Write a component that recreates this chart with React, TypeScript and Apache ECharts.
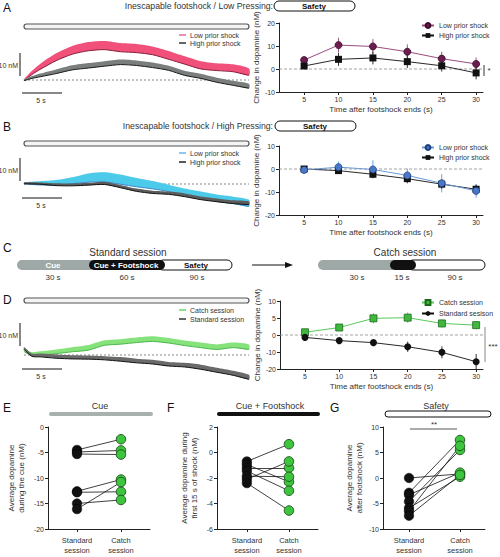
import React, { useEffect, useRef } from "react";
import * as echarts from "echarts";

const FONT = "'Liberation Sans', Arial, Helvetica, sans-serif";
const INK = "#333333";

// ---------- Photometry traces (nM vs time in s) ----------
const TRACE_T = [0, 1, 2, 4, 6, 8, 10, 12, 14, 16, 18, 20, 22, 24, 26, 28];
const A_LOW_TRACE = [0, 3.2, 5.8, 10, 13, 14.6, 15.1, 14.2, 13.8, 12.8, 10.8, 8.6, 6.5, 5.7, 5.2, 3.5];
const A_LOW_SEM = [0.3, 0.8, 1.2, 1.6, 1.8, 1.9, 1.9, 1.9, 1.9, 1.8, 1.8, 1.7, 1.7, 1.6, 1.6, 1.5];
const A_HIGH_TRACE = [0, 1.2, 2.1, 3.7, 5.4, 6.3, 7.1, 7.8, 7.4, 6.5, 5.2, 3, 1.7, 0, -1.3, -2.6];
const A_HIGH_SEM = [0.3, 0.5, 0.7, 0.9, 1, 1.1, 1.1, 1.1, 1.1, 1.1, 1, 1, 1, 1, 1, 1];
const B_LOW_TRACE = [0.4, 0.4, 0.4, 0.6, 1.5, 2.7, 3.0, 2.0, 0.7, -0.4, -1.8, -3.5, -4.8, -6.1, -7, -8.3];
const B_LOW_SEM = [0.3, 0.6, 0.8, 1.1, 1.4, 1.9, 2.1, 2.1, 1.9, 1.7, 1.5, 1.5, 1.5, 1.5, 1.5, 1.5];
const B_HIGH_TRACE = [0.4, 0.4, 0.3, -0.2, -0.3, 0, 0.4, -1.0, -2.6, -3.5, -3.9, -4.8, -6.1, -7, -7.8, -8.3];
const B_HIGH_SEM = [0.3, 0.4, 0.4, 0.5, 0.5, 0.5, 0.6, 0.6, 0.6, 0.6, 0.6, 0.7, 0.7, 0.7, 0.7, 0.7];
const D_CATCH_TRACE = [2, 0.5, 0.8, 1.5, 2.4, 3.2, 5.3, 5.8, 6.5, 7, 6.3, 5.2, 4.3, 3.5, 4.3, 3.5];
const D_CATCH_SEM = [0.5, 0.7, 0.8, 0.9, 1, 1.1, 1.1, 1.1, 1.1, 1.1, 1.1, 1.1, 1.1, 1.1, 1.1, 1.1];
const D_STD_TRACE = [3, 0, -0.1, -0.6, -0.9, -1.0, -1.3, -1.8, -2.5, -3.0, -3.9, -4.3, -5.2, -6.5, -7.8, -9.6];
const D_STD_SEM = [0.5, 0.6, 0.7, 0.8, 0.8, 0.8, 0.8, 0.9, 0.9, 0.9, 0.9, 0.9, 1, 1, 1, 1];

// ---------- Time-binned summaries ----------
const X_PTS = [5, 10, 15, 20, 25, 30];
const A_LOW = [3.9, 10.4, 9.8, 7.5, 4.5, 2.2];
const A_LOW_ERR = [1, 3.2, 3.2, 3.2, 3, 2.8];
const A_HIGH = [1.3, 4.2, 4.8, 3.2, 1.4, -1.7];
const A_HIGH_ERR = [1, 2.8, 2.8, 2.8, 2.5, 2.8];
const B_LOW = [-0.4, 0.8, -0.2, -2.8, -6.2, -9.5];
const B_LOW_ERR = [0.5, 2.5, 4, 3, 4, 3];
const B_HIGH = [0, -0.7, -2.3, -4.2, -6.6, -8.8];
const B_HIGH_ERR = [0.5, 1, 1.5, 2, 2, 2];
const D_CATCH = [0.8, 2.2, 4.9, 5.1, 3.4, 2.9];
const D_CATCH_ERR = [0.8, 0.8, 1.5, 1.5, 1.2, 1.2];
const D_STD = [-1.4, -3.3, -4.5, -6.9, -10.2, -15.7];
const D_STD_ERR = [1, 1, 1.5, 3, 3.5, 4.5];
const X_TICKS = [5, 10, 15, 20, 25, 30];

// ---------- Per-subject averages ----------
const E_STD = [-4.5, -4.9, -5.3, -12.6, -12.8, -15.0, -16.1];
const E_CATCH = [-2.4, -4.6, -5.4, -10.3, -12.7, -14.3, -10.8];
const F_STD = [-0.7, -0.94, -1.2, -1.45, -1.86, -2.1, -2.4];
const F_CATCH = [0.65, -2.3, -1.2, -3.0, -1.9, -0.7, -4.55];
const G_STD = [0, -2.9, -3.3, -4.6, -5.9, -6.5, -7.4];
const G_CATCH = [0.8, 7.45, 1.05, 5.5, 0.25, 6.3, 0.6];
const SESSION_LABELS = ["Standard\nsession", "Catch\nsession"];

const LEGEND_NAMES: Record<string, string> = {
  aLow: "Low prior shock",
  aHigh: "High prior shock",
  bLow: "Low prior shock",
  bHigh: "High prior shock",
  dCatch: "Catch session",
  dStd: "Standard sesison",
};

// D right axis uses a split scale: 0..10 in steps of 5, 0..-20 in steps of 10
const dTf = (v: number) => (v >= 0 ? v : v / 2);
const dInv = (v: number) => (v >= 0 ? v : v * 2);

const zip = (xs: number[], ys: number[], tf = (v: number) => v) => xs.map((x, i) => [x, tf(ys[i])]);

function bandSeries(gi: number, t: number[], mean: number[], sem: number[], fill: string, edge: string) {
  return {
    type: "custom",
    xAxisIndex: gi,
    yAxisIndex: gi,
    silent: true,
    z: 2,
    data: [[t[0], mean[0]]],
    renderItem: (_p: any, api: any) => {
      const up = t.map((x, i) => api.coord([x, mean[i] + sem[i]]));
      const lo = t.map((x, i) => api.coord([x, mean[i] - sem[i]]));
      return {
        type: "group",
        children: [
          { type: "polygon", shape: { points: up.concat(lo.slice().reverse()), smooth: 0.25 }, style: { fill } },
          { type: "polyline", shape: { points: lo, smooth: 0.25 }, style: { stroke: edge, lineWidth: 1, fill: null } },
        ],
      };
    },
  };
}

function errSeries(gi: number, xs: number[], vals: number[], errs: number[], color: string, tf = (v: number) => v) {
  return {
    type: "custom",
    xAxisIndex: gi,
    yAxisIndex: gi,
    silent: true,
    z: 3,
    data: xs.map((x, i) => [x, tf(vals[i] - errs[i]), tf(vals[i] + errs[i])]),
    encode: { x: 0, y: [1, 2] },
    renderItem: (_p: any, api: any) => {
      const a = api.coord([api.value(0), api.value(1)]);
      const b = api.coord([api.value(0), api.value(2)]);
      return { type: "line", shape: { x1: a[0], y1: a[1], x2: b[0], y2: b[1] }, style: { stroke: color, lineWidth: 1 } };
    },
  };
}

function zeroLine(gi: number, x0: number, x1: number) {
  return {
    type: "line",
    xAxisIndex: gi,
    yAxisIndex: gi,
    silent: true,
    z: 1,
    symbol: "none",
    data: [[x0, 0], [x1, 0]],
    lineStyle: { color: "#8a8a8a", width: 0.8, type: [3, 2] },
  };
}

const axisCommon = {
  axisLine: { show: true, onZero: false, lineStyle: { color: "#222", width: 1 } },
  axisTick: { show: true, length: 3, lineStyle: { color: "#222" } },
  splitLine: { show: false },
  nameTextStyle: { fontSize: 8, color: INK, fontFamily: FONT },
};

function rightX(gi: number) {
  return {
    gridIndex: gi,
    type: "value",
    min: 1.35,
    max: 31,
    name: "Time after footshock ends (s)",
    nameLocation: "middle",
    nameGap: 13,
    ...axisCommon,
    axisTick: { ...axisCommon.axisTick, customValues: X_TICKS },
    axisLabel: { customValues: X_TICKS, fontSize: 7, color: INK, margin: 4, fontFamily: FONT },
  };
}

function rightY(gi: number, min: number, max: number, interval: number, fmt?: (v: number) => string) {
  return {
    gridIndex: gi,
    type: "value",
    min,
    max,
    interval,
    name: "Change in dopamine (nM)",
    nameLocation: "middle",
    nameRotate: 90,
    nameGap: 12,
    ...axisCommon,
    axisLabel: { fontSize: 7, color: INK, margin: 4, fontFamily: FONT, formatter: fmt },
  };
}

function sessX(gi: number, min: number, max: number) {
  return {
    gridIndex: gi,
    type: "value",
    min,
    max,
    ...axisCommon,
    axisTick: { ...axisCommon.axisTick, customValues: [1, 2] },
    axisLabel: {
      customValues: [1, 2],
      fontSize: 7.5,
      lineHeight: 10,
      color: INK,
      margin: 6,
      fontFamily: FONT,
      formatter: (v: number) => SESSION_LABELS[Math.round(v) - 1] ?? "",
    },
  };
}

function sessY(gi: number, min: number, max: number, interval: number, name: string, gap: number) {
  return {
    gridIndex: gi,
    type: "value",
    min,
    max,
    interval,
    name,
    nameLocation: "middle",
    nameRotate: 90,
    nameGap: gap,
    ...axisCommon,
    nameTextStyle: { fontSize: 8, color: INK, fontFamily: FONT, lineHeight: 10 },
    axisLabel: { fontSize: 7, color: INK, margin: 4, fontFamily: FONT },
  };
}

function pairedSeries(gi: number, std: number[], catchV: number[]) {
  return [
    {
      type: "lines",
      coordinateSystem: "cartesian2d",
      xAxisIndex: gi,
      yAxisIndex: gi,
      silent: true,
      z: 2,
      data: std.map((s, i) => ({ coords: [[1, s], [2, catchV[i]]] })),
      lineStyle: { color: "#111", width: 0.8, opacity: 1 },
    },
    {
      type: "scatter",
      xAxisIndex: gi,
      yAxisIndex: gi,
      silent: true,
      z: 3,
      symbolSize: 9.5,
      data: std.map((s) => [1, s]),
      itemStyle: { color: "#111", borderColor: "#000", borderWidth: 0.5, opacity: 1 },
    },
    {
      type: "scatter",
      xAxisIndex: gi,
      yAxisIndex: gi,
      silent: true,
      z: 4,
      symbolSize: 9.5,
      data: catchV.map((c) => [2, c]),
      itemStyle: { color: "#3ec53e", borderColor: "#1c4d1c", borderWidth: 0.9, opacity: 1 },
    },
  ];
}

// ---------- graphic helpers ----------
const T = (x: number, y: number, text: string, o: any = {}) => ({
  type: "text",
  x,
  y,
  silent: true,
  style: {
    text,
    fontFamily: FONT,
    fontSize: o.size ?? 8,
    fontWeight: o.bold ? "bold" : "normal",
    fill: o.color ?? INK,
    align: o.align ?? "center",
    verticalAlign: "middle",
  },
});
const R = (x: number, y: number, w: number, h: number, fill: string, stroke: string | null = null, lw = 1) => ({
  type: "rect",
  silent: true,
  shape: { x, y, width: w, height: h, r: h / 2 },
  style: { fill, stroke, lineWidth: lw },
});
const L = (x1: number, y1: number, x2: number, y2: number, color = "#111", w = 1) => ({
  type: "line",
  silent: true,
  shape: { x1, y1, x2, y2 },
  style: { stroke: color, lineWidth: w },
});

function buildGraphics() {
  const g: any[] = [];
  // panel letters
  g.push(T(3, 8, "A", { size: 12, align: "left", color: "#111" }));
  g.push(T(3, 127, "B", { size: 12, align: "left", color: "#111" }));
  g.push(T(3, 248, "C", { size: 12, align: "left", color: "#111" }));
  g.push(T(3, 300, "D", { size: 12, align: "left", color: "#111" }));
  g.push(T(3, 408, "E", { size: 12, align: "left", color: "#111" }));
  g.push(T(167, 408, "F", { size: 12, align: "left", color: "#111" }));
  g.push(T(330, 408, "G", { size: 12, align: "left", color: "#111" }));

  // titles A / B
  g.push(T(273, 6, "Inescapable footshock / Low Pressing:", { size: 8.7, align: "right" }));
  g.push(R(274, 1, 81, 10, "#fff", "#111"));
  g.push(T(314, 6, "Safety", { size: 8, bold: true, color: "#111" }));
  g.push(T(273, 126, "Inescapable footshock / High Pressing:", { size: 8.7, align: "right" }));
  g.push(R(275, 121, 81, 10, "#fff", "#111"));
  g.push(T(315, 126, "Safety", { size: 8, bold: true, color: "#111" }));

  // long bars above traces
  g.push(R(24, 24, 225, 5, "#f4f4f4", "#555", 1.2));
  g.push(R(24, 141, 225, 5, "#f4f4f4", "#555", 1.2));
  g.push(R(24, 298, 225, 5, "#f4f4f4", "#555", 1.2));

  // trace legends
  const legendRows = [
    [35, "#e46a9c", "Low prior shock"],
    [43, "#333", "High prior shock"],
    [153, "#6ab8e8", "Low prior shock"],
    [162, "#222", "High prior shock"],
    [310, "#6bd66b", "Catch session"],
    [319, "#333", "Standard session"],
  ] as const;
  legendRows.forEach(([y, c, t]) => {
    g.push(L(179, y as number, 186, y as number, c as string, 1.5));
    g.push(T(190, y as number, t as string, { size: 7, align: "left" }));
  });

  // scale bars
  const scale = (top: number, bot: number, hy: number) => {
    g.push(L(20, top, 20, bot, "#111", 1));
    g.push(T(18, (top + bot) / 2 + 1, "10 nM", { size: 7, align: "right" }));
    g.push(L(22, hy, 62, hy, "#111", 1));
    g.push(T(41, hy + 7, "5 s", { size: 7 }));
  };
  scale(53, 76, 93);
  scale(158, 181, 198);
  scale(323, 346, 369);

  // Panel C schematic
  g.push(T(128, 252, "Standard session", { size: 10 }));
  g.push(R(17, 260, 78, 10, "#9ea8a6"));
  g.push(R(158, 260, 74, 10, "#fff", "#111"));
  g.push(R(89, 260, 76, 10, "#111"));
  g.push(T(53, 265, "Cue", { size: 8, bold: true, color: "#fff" }));
  g.push(T(126, 265, "Cue + Footshock", { size: 8, bold: true, color: "#fff" }));
  g.push(T(196, 265, "Safety", { size: 8, bold: true, color: "#111" }));
  g.push(T(53, 277, "30 s", { size: 8 }));
  g.push(T(127, 277, "60 s", { size: 8 }));
  g.push(T(197, 277, "90 s", { size: 8 }));
  g.push(L(252, 265, 287, 265, "#111", 1.2));
  g.push({ type: "polygon", silent: true, shape: { points: [[293, 265], [285, 262], [285, 268]] }, style: { fill: "#111" } });
  g.push(T(405, 252, "Catch session", { size: 10 }));
  g.push(R(318, 260, 80, 10, "#9ea8a6"));
  g.push(R(408, 260, 77, 10, "#fff", "#111"));
  g.push(R(390, 260, 26, 10, "#111"));
  g.push(T(357, 277, "30 s", { size: 8 }));
  g.push(T(402, 277, "15 s", { size: 8 }));
  g.push(T(455, 277, "90 s", { size: 8 }));

  // significance marks
  g.push(L(484, 65, 484, 76, "#333", 1));
  g.push(T(489, 70, "*", { size: 8 }));
  g.push(L(485, 327, 485, 362, "#888", 1));
  g.push(T(493, 346, "***", { size: 8 }));

  // E/F/G titles
  g.push(T(100, 406, "Cue", { size: 9 }));
  g.push(R(49, 412, 104, 4, "#a9b1af"));
  g.push(T(270, 406, "Cue + Footshock", { size: 9 }));
  g.push(R(217, 412, 103, 4, "#111"));
  g.push(T(436, 406, "Safety", { size: 9 }));
  g.push(R(385, 411, 106, 6, "#fff", "#111"));
  g.push(L(410, 429, 457, 429, "#555", 1));
  g.push(T(434, 424, "**", { size: 8 }));
  return g;
}

export default function App() {
  const ref = useRef<HTMLDivElement>(null);

  useEffect(() => {
    document.body.style.margin = "0";
    const chart = echarts.init(ref.current!, null, { renderer: "svg" });

    const hiddenX = (gi: number) => ({ gridIndex: gi, type: "value", min: 0, max: 28, show: false });
    const hiddenY = (gi: number, min: number, max: number) => ({ gridIndex: gi, type: "value", min, max, show: false });

    const grid = [
      { left: 24, top: 34, width: 225, height: 69 }, // 0 A trace
      { left: 279, top: 23, width: 204, height: 69 }, // 1 A right
      { left: 24, top: 149.5, width: 225, height: 69 }, // 2 B trace
      { left: 279, top: 146, width: 204, height: 69 }, // 3 B right
      { left: 24, top: 320.5, width: 225, height: 69 }, // 4 D trace
      { left: 280, top: 301, width: 203, height: 68 }, // 5 D right
      { left: 48, top: 427, width: 102, height: 102 }, // 6 E
      { left: 217, top: 427, width: 101, height: 102 }, // 7 F
      { left: 383, top: 427, width: 102, height: 102 }, // 8 G
    ].map((g) => ({ ...g, containLabel: false, outerBoundsMode: "none" }));

    const xAxis = [
      hiddenX(0),
      rightX(1),
      hiddenX(2),
      rightX(3),
      hiddenX(4),
      rightX(5),
      sessX(6, 0.34, 2.66),
      sessX(7, 0.29, 2.69),
      sessX(8, 0.49, 2.49),
    ];
    const yAxis = [
      hiddenY(0, -10, 20),
      rightY(1, -10, 20, 10),
      hiddenY(2, -15, 15),
      rightY(3, -20, 10, 10),
      hiddenY(4, -15, 15),
      rightY(5, -10, 10, 5, (v: number) => String(dInv(v))),
      sessY(6, -20, 0, 5, "Average dopamine\nduring the cue (nM)", 22),
      sessY(7, -6, 2, 2, "Average dopamine during\nfirst 15 s of shock (nM)", 18),
      sessY(8, -10, 10, 5, "Average dopamine\nafter footshock (nM)", 19),
    ];

    const traceBase = (gi: number) => ({
      type: "line",
      xAxisIndex: gi,
      yAxisIndex: gi,
      silent: true,
      z: 1,
      symbol: "none",
      data: [[0, 0], [28, 0]],
      lineStyle: { color: "#555", width: 0.7, type: [2, 2] },
    });

    const series: any[] = [
      // A traces
      traceBase(0),
      bandSeries(0, TRACE_T, A_LOW_TRACE, A_LOW_SEM, "#f0507a", "#8a1f3c"),
      bandSeries(0, TRACE_T, A_HIGH_TRACE, A_HIGH_SEM, "#7a7f7d", "#1a1a1a"),
      // A right
      zeroLine(1, 1.35, 31),
      errSeries(1, X_PTS, A_LOW, A_LOW_ERR, "#9b5a84"),
      errSeries(1, X_PTS, A_HIGH, A_HIGH_ERR, "#333"),
      {
        name: "aLow", type: "line", xAxisIndex: 1, yAxisIndex: 1, z: 5, data: zip(X_PTS, A_LOW),
        symbol: "circle", symbolSize: 7,
        itemStyle: { color: "#6b1d50", borderColor: "#3b0a2a", borderWidth: 0.8 },
        lineStyle: { color: "#9b4b7e", width: 1 },
      },
      {
        name: "aHigh", type: "line", xAxisIndex: 1, yAxisIndex: 1, z: 5, data: zip(X_PTS, A_HIGH),
        symbol: "rect", symbolSize: 7,
        itemStyle: { color: "#111" },
        lineStyle: { color: "#111", width: 0.9 },
      },
      // B traces
      traceBase(2),
      bandSeries(2, TRACE_T, B_LOW_TRACE, B_LOW_SEM, "#4ccaea", "#3a86cc"),
      bandSeries(2, TRACE_T, B_HIGH_TRACE, B_HIGH_SEM, "#5c5c5c", "#111"),
      // B right
      zeroLine(3, 1.35, 31),
      errSeries(3, X_PTS, B_LOW, B_LOW_ERR, "#6aa6e0"),
      errSeries(3, X_PTS, B_HIGH, B_HIGH_ERR, "#333"),
      {
        name: "bHigh", type: "line", xAxisIndex: 3, yAxisIndex: 3, z: 5, data: zip(X_PTS, B_HIGH),
        symbol: "rect", symbolSize: 7,
        itemStyle: { color: "#111" },
        lineStyle: { color: "#111", width: 0.9 },
      },
      {
        name: "bLow", type: "line", xAxisIndex: 3, yAxisIndex: 3, z: 6, data: zip(X_PTS, B_LOW),
        symbol: "circle", symbolSize: 7,
        itemStyle: { color: "#4a78c8", borderColor: "#1f3f7f", borderWidth: 0.8 },
        lineStyle: { color: "#6a9ad8", width: 1 },
      },
      // D traces
      traceBase(4),
      bandSeries(4, TRACE_T, D_CATCH_TRACE, D_CATCH_SEM, "#86e27a", "#4cb84c"),
      bandSeries(4, TRACE_T, D_STD_TRACE, D_STD_SEM, "#6a6a6a", "#111"),
      // D right
      zeroLine(5, 1.35, 31),
      errSeries(5, X_PTS, D_CATCH, D_CATCH_ERR, "#5ac85a", dTf),
      errSeries(5, X_PTS, D_STD, D_STD_ERR, "#333", dTf),
      {
        name: "dCatch", type: "line", xAxisIndex: 5, yAxisIndex: 5, z: 5, data: zip(X_PTS, D_CATCH, dTf),
        symbol: "rect", symbolSize: 7,
        itemStyle: { color: "#40b840", borderColor: "#1a6a1a", borderWidth: 0.8 },
        lineStyle: { color: "#5ac85a", width: 1 },
      },
      {
        name: "dStd", type: "line", xAxisIndex: 5, yAxisIndex: 5, z: 5, data: zip(X_PTS, D_STD, dTf),
        symbol: "circle", symbolSize: 7,
        itemStyle: { color: "#111" },
        lineStyle: { color: "#111", width: 0.9 },
      },
      // E, F, G
      ...pairedSeries(6, E_STD, E_CATCH),
      ...pairedSeries(7, F_STD, F_CATCH),
      ...pairedSeries(8, G_STD, G_CATCH),
    ];

    const legendBase = {
      orient: "vertical",
      itemGap: 3,
      itemWidth: 12,
      itemHeight: 6,
      padding: 0,
      selectedMode: false,
      textStyle: { fontSize: 7, color: INK, fontFamily: FONT },
      formatter: (n: string) => LEGEND_NAMES[n] ?? n,
    };

    chart.setOption({
      animation: false,
      textStyle: { fontFamily: FONT },
      grid,
      xAxis,
      yAxis,
      legend: [
        { ...legendBase, data: ["aLow", "aHigh"], left: 421, top: 22 },
        { ...legendBase, data: ["bLow", "bHigh"], left: 421, top: 144 },
        { ...legendBase, data: ["dCatch", "dStd"], left: 421, top: 299, itemGap: 4 },
      ],
      series,
      graphic: buildGraphics(),
    });

    return () => chart.dispose();
  }, []);

  return <div ref={ref} style={{ width: 500, height: 557 }} />;
}
